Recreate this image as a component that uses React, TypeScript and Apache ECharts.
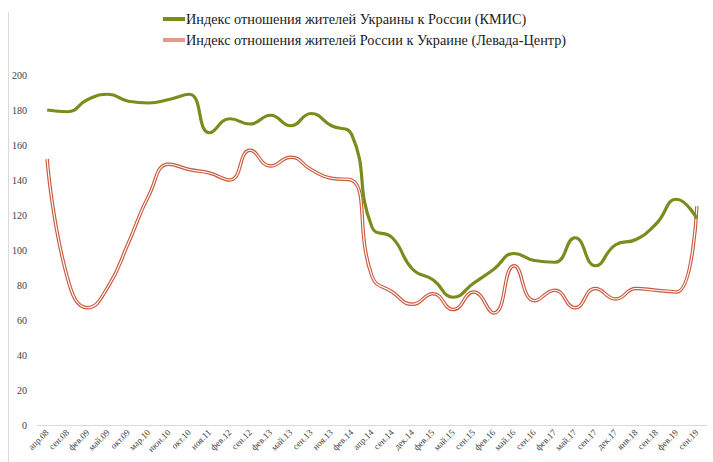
import React, { useEffect, useRef } from "react";
import * as echarts from "echarts";

const categories = [
  "апр.08", "сен.08", "фев.09", "май.09", "окт.09", "мар.10", "июн.10", "окт.10",
  "ноя.11", "фев.12", "сен.12", "фев.13", "май.13", "сен.13", "ноя.13", "фев.14",
  "апр.14", "сен.14", "дек.14", "фев.15", "май.15", "сен.15", "фев.16", "май.16",
  "сен.16", "фев.17", "май.17", "сен.17", "дек.17", "янв.18", "сен.18", "фев.19", "сен.19",
];

const kmis = [
  180, 179, 186, 189, 185, 184, 186, 189,
  167, 175, 172, 177, 171, 178, 171, 166,
  113, 107, 89, 83, 73, 81, 89, 98,
  94, 93, 107, 91, 103, 106, 115, 129, 118,
];

const levada = [
  152, 84, 67, 79, 104, 131, 149, 146,
  144, 140, 157, 148, 153, 146, 141, 140,
  85, 76, 69, 75, 66, 76, 64, 91,
  71, 77, 67, 78, 72, 78, 77, 76, 125,
];

const nameKmis = "Индекс отношения жителей Украины к России (КМИС)";
const nameLevada = "Индекс отношения жителей России к Украине (Левада-Центр)";

export default function App() {
  const ref = useRef<HTMLDivElement>(null);
  useEffect(() => {
    if (!ref.current) return;
    const chart = echarts.init(ref.current, null, { renderer: "svg" });
    const green = "#7b8c1e";
    const red = "#c9593d";
    chart.setOption({
      animation: false,
      backgroundColor: "#ffffff",
      textStyle: { fontFamily: "Liberation Serif" },
      legend: {
        orient: "vertical",
        left: 158,
        top: 7,
        itemGap: 7,
        itemWidth: 22,
        itemHeight: 4,
        data: [
          { name: nameKmis, icon: "rect", itemStyle: { color: green } },
          { name: nameLevada, icon: "rect", itemStyle: { color: "#e59a86" } },
        ],
        textStyle: { fontSize: 14.3, color: "#1a1a1a", fontFamily: "Liberation Serif", padding: [0, 0, 0, -4] },
      },
      grid: { left: 37, right: 6, top: 75, bottom: 37, containLabel: false },
      xAxis: {
        type: "category",
        data: categories,
        boundaryGap: true,
        axisLine: { show: true, lineStyle: { color: "#d9d9d9" } },
        axisTick: { show: false },
        axisLabel: {
          rotate: 45,
          interval: 0,
          fontSize: 9,
          color: "#404040",
          margin: 6,
        },
      },
      yAxis: {
        type: "value",
        min: 0,
        max: 200,
        interval: 20,
        splitLine: { show: false },
        axisLine: { show: false },
        axisTick: { show: false },
        axisLabel: { fontSize: 10, color: "#404040", margin: 10 },
      },
      graphic: [
        {
          type: "line",
          shape: { x1: 8.5, y1: 12, x2: 8.5, y2: 462 },
          style: { stroke: "#d9d9d9", lineWidth: 1 },
        },
      ],
      series: [
        {
          name: nameKmis,
          type: "line",
          data: kmis,
          smooth: 0.5,
          showSymbol: false,
          lineStyle: { color: green, width: 3.2 },
          itemStyle: { color: green },
          z: 3,
        },
        {
          name: nameLevada,
          type: "line",
          data: levada,
          smooth: 0.5,
          showSymbol: false,
          lineStyle: { color: red, width: 3.5 },
          itemStyle: { color: red },
          z: 2,
        },
        {
          name: "levada-inner",
          type: "line",
          data: levada,
          smooth: 0.5,
          showSymbol: false,
          lineStyle: { color: "#ffffff", width: 1.2 },
          itemStyle: { color: "#ffffff" },
          z: 2,
          silent: true,
        },
      ],
    });
    return () => chart.dispose();
  }, []);
  return (
    <div
      ref={ref}
      style={{ position: "absolute", left: 0, top: 0, width: 713, height: 462 }}
    />
  );
}
